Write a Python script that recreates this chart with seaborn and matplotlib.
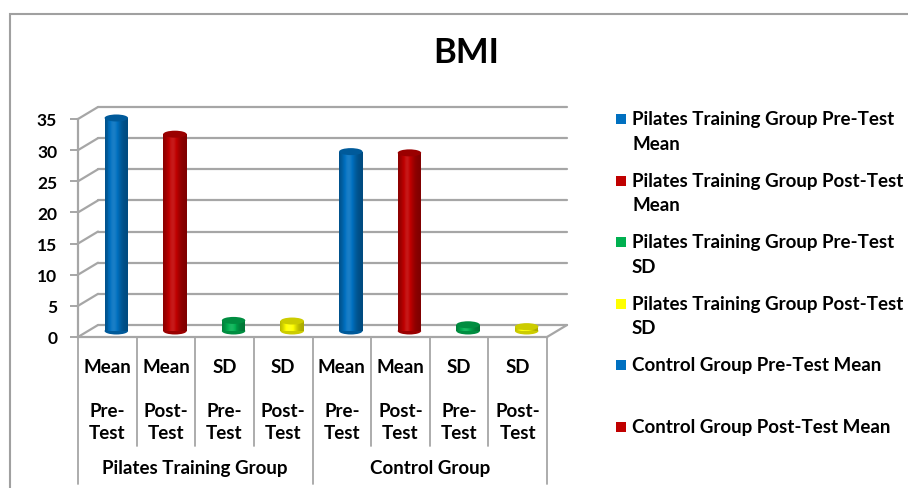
import numpy as np
import pandas as pd
import seaborn as sns
import matplotlib.pyplot as plt
import matplotlib.transforms as mtransforms
from matplotlib.patches import Ellipse, Rectangle
from matplotlib.lines import Line2D
from matplotlib.colors import to_rgb

# ---- data -------------------------------------------------------------
groups = ["Pilates Training Group", "Control Group"]
stat_names = ["Mean", "Mean", "SD", "SD"]
phase_names = ["Pre-", "Post-", "Pre-", "Post-"]
pilates_values = [34.2, 31.6, 1.7, 1.6]
control_values = [28.8, 28.6, 1.0, 0.7]
series_colors = ["#0070C0", "#C00000", "#00B050", "#FFFF00"]
y_ticks = [0, 5, 10, 15, 20, 25, 30, 35]
legend_labels = [
    "Pilates Training Group Pre-Test\nMean",
    "Pilates Training Group Post-Test\nMean",
    "Pilates Training Group Pre-Test\nSD",
    "Pilates Training Group Post-Test\nSD",
    "Control Group Pre-Test Mean",
    "Control Group Post-Test Mean",
]
legend_colors = ["#0070C0", "#C00000", "#00B050", "#FFFF00", "#0070C0", "#C00000"]

keys = [f"g{g}_{i}" for g in range(2) for i in range(4)]
df = pd.DataFrame({
    "key": keys,
    "value": pilates_values + control_values,
    "color": series_colors * 2,
    "label": [f"{s}\n\n{p}\nTest" for s, p in zip(stat_names, phase_names)] * 2,
})

# ---- figure setup -----------------------------------------------------
sns.set_theme(style="white")
plt.rcParams["font.family"] = ["Lato", "DejaVu Sans"]
plt.rcParams["font.weight"] = "bold"
plt.rcParams["text.color"] = "black"
plt.rcParams["xtick.color"] = "black"
plt.rcParams["ytick.color"] = "black"

W, H, DPI = 908, 489, 100
fig = plt.figure(figsize=(W / DPI, H / DPI), dpi=DPI)
ax_left, ax_right, ax_bottom_px, ax_top_px = 78, 547, 338, 120
ax = fig.add_axes([ax_left / W, (H - ax_bottom_px) / H,
                   (ax_right - ax_left) / W, (ax_bottom_px - ax_top_px) / H])
ax.set_facecolor("none")

grid_color = "#A6A6A6"
depth_dx, depth_dy = 20, 12          # back wall offset in pixels
bar_dx, bar_dy = 9, 6                # bars sit mid-depth

back_off = mtransforms.ScaledTranslation(depth_dx / DPI, depth_dy / DPI, fig.dpi_scale_trans)
bar_off = mtransforms.ScaledTranslation(bar_dx / DPI, bar_dy / DPI, fig.dpi_scale_trans)

xmin, xmax = -0.5, 7.5
ymin, ymax = 0, 35

# ---- bars -------------------------------------------------------------
sns.barplot(data=df, x="key", y="value", hue="key", order=keys,
            palette=dict(zip(df["key"], df["color"])), saturation=1,
            width=0.4, legend=False, ax=ax)
ax.set_xlim(xmin, xmax)
ax.set_ylim(ymin, ymax)

bar_trans = ax.transData + bar_off
px_per_unit = (ax_bottom_px - ax_top_px) / (ymax - ymin)
cap_h = 7.0 / px_per_unit


def shade(rgb, f):
    rgb = np.array(rgb)
    if f <= 1:
        return tuple(rgb * f)
    return tuple(rgb + (1 - rgb) * (f - 1))


profile_t = np.linspace(0, 1, 24)
profile_f = 0.66 + 0.44 * np.exp(-((profile_t - 0.4) / 0.3) ** 2)

for patch, color in zip(ax.patches, df["color"]):
    patch.set_transform(bar_trans)
    patch.set_edgecolor("none")
    patch.set_clip_on(False)
    x0, w = patch.get_x(), patch.get_width()
    h = patch.get_height()
    base = to_rgb(color)
    # rounded bottom
    ax.add_patch(Ellipse((x0 + w / 2, 0), w, cap_h, transform=bar_trans,
                         facecolor=shade(base, 0.8), edgecolor="none",
                         clip_on=False, zorder=2))
    # cylinder body shading
    sw = w / len(profile_t)
    for k, f in enumerate(profile_f):
        ax.add_patch(Rectangle((x0 + k * sw, 0), sw * 1.05, h, transform=bar_trans,
                               facecolor=shade(base, f), edgecolor="none",
                               clip_on=False, zorder=3))
    # top cap
    ax.add_patch(Ellipse((x0 + w / 2, h), w, cap_h, transform=bar_trans,
                         facecolor=shade(base, 0.8), edgecolor="none",
                         clip_on=False, zorder=4))

ax.set_xlim(xmin, xmax)
ax.set_ylim(ymin, ymax)

# ---- 3D walls ---------------------------------------------------------
back_trans = ax.transData + back_off
for v in y_ticks:
    ax.add_line(Line2D([xmin, xmax], [v, v], transform=back_trans,
                       color=grid_color, lw=1.6, zorder=0.5, clip_on=False))
    p0 = ax.transData.transform((xmin, v))
    fig.add_artist(Line2D([p0[0], p0[0] + depth_dx], [p0[1], p0[1] + depth_dy],
                          transform=mtransforms.IdentityTransform(),
                          color=grid_color, lw=1.6, zorder=0.5))
p0 = ax.transData.transform((xmax, 0))
fig.add_artist(Line2D([p0[0], p0[0] + depth_dx], [p0[1], p0[1] + depth_dy],
                      transform=mtransforms.IdentityTransform(),
                      color=grid_color, lw=1.6, zorder=0.5))

for side in ["top", "right"]:
    ax.spines[side].set_visible(False)
for side in ["left", "bottom"]:
    ax.spines[side].set_color(grid_color)
    ax.spines[side].set_linewidth(1.6)

# ---- ticks ------------------------------------------------------------
ax.set_yticks(y_ticks)
ax.set_yticklabels([str(v) for v in y_ticks], fontsize=12.5, fontweight="bold")
ax.tick_params(axis="y", length=6, width=1.4, color=grid_color, pad=9, left=True)
ax.set_xticks(range(len(keys)))
ax.set_xticklabels(df["label"], fontsize=13.5, fontweight="bold", linespacing=1.36)
ax.tick_params(axis="x", length=0, pad=15)
ax.set_xlabel("")
ax.set_ylabel("")

# category table lines
tbl = mtransforms.blended_transform_factory(ax.transData, ax.transAxes)
for b in np.arange(xmin, xmax + 1):
    outer = b in (xmin, 3.5, xmax)
    ax.add_line(Line2D([b, b], [0, -0.675 if outer else -0.5], transform=tbl,
                       color=grid_color, lw=1.3, clip_on=False))
for gi, g in enumerate(groups):
    ax.text(1.5 + 4 * gi, -0.6, g, transform=tbl, ha="center", va="center",
            fontsize=13.5, fontweight="bold")

# ---- title ------------------------------------------------------------
fig.text(466 / W, 1 - 53 / H, "BMI", ha="center", va="center",
         fontsize=25, fontweight="bold")

# ---- legend -----------------------------------------------------------
leg_x, leg_y0, leg_step = 616, 120, 61.6
for i, (lab, col) in enumerate(zip(legend_labels, legend_colors)):
    yc = leg_y0 + i * leg_step
    fig.add_artist(Rectangle((leg_x / W, 1 - (yc + 5) / H), 10 / W, 10 / H,
                             transform=fig.transFigure, facecolor=col,
                             edgecolor="none"))
    fig.text((leg_x + 16) / W, 1 - (yc - 9) / H, lab, ha="left", va="top",
             fontsize=13.5, fontweight="bold", linespacing=1.55)

# ---- chart border -----------------------------------------------------
fig.add_artist(Rectangle((10 / W, -0.05), 1.1, 1 - 15 / H + 0.05,
                         transform=fig.transFigure, facecolor="none",
                         edgecolor="#A0A0A0", lw=1.5))

fig.savefig("out.png", dpi=DPI)
